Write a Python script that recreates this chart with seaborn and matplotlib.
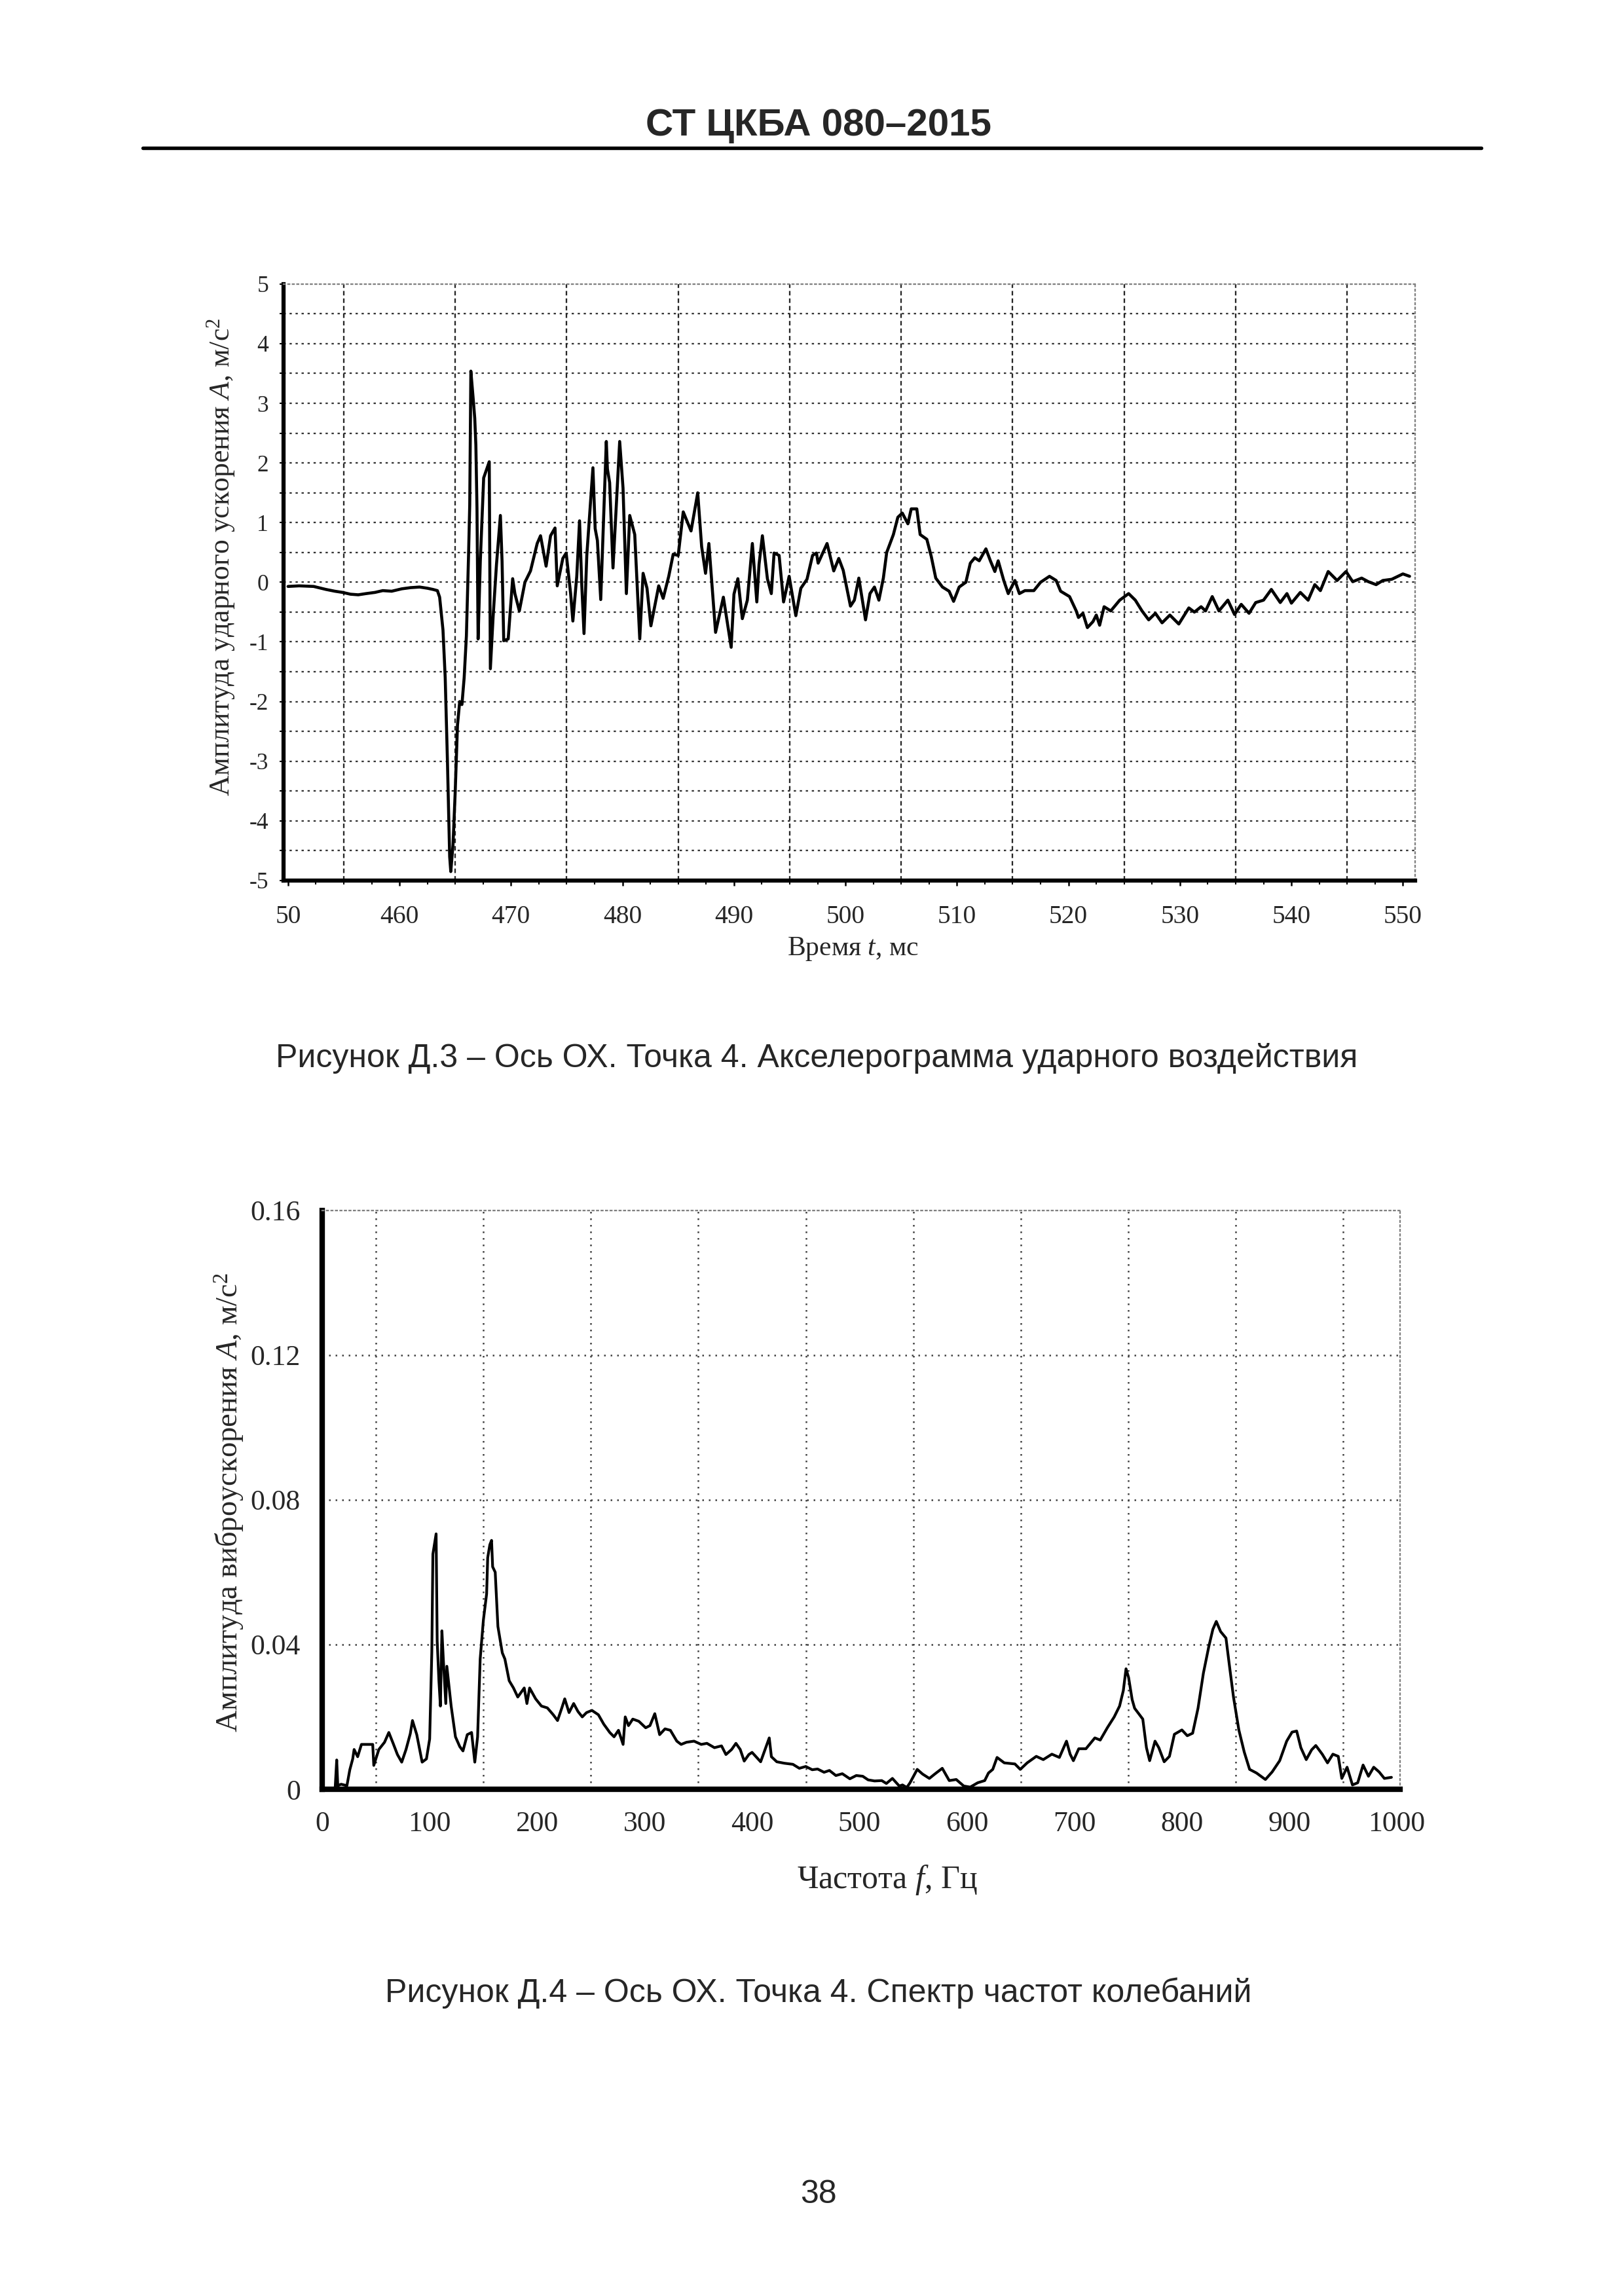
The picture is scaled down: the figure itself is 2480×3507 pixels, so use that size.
import numpy as np
import pandas as pd
import matplotlib
matplotlib.use("Agg")
import matplotlib.pyplot as plt
from matplotlib.lines import Line2D
from matplotlib.ticker import FixedLocator, MultipleLocator
import seaborn as sns

# %%
# Рисунок Д.3 - акселерограмма
t_ms = [450.0, 451.0, 452.3, 453.4, 454.2, 454.9, 455.6, 456.3, 457.0, 457.8,
        458.5, 459.3, 460.2, 461.0, 461.8, 462.5, 463.0, 463.4, 463.6, 463.9,
        464.1, 464.3, 464.5, 464.6, 464.8, 465.0, 465.2, 465.4, 465.6, 465.8,
        466.0, 466.2, 466.3, 466.4, 466.6, 466.75, 466.85, 466.95, 467.05, 467.25,
        467.55, 468.05, 468.15, 468.4, 468.7, 469.05, 469.2, 469.35, 469.75, 470.15,
        470.35, 470.75, 471.25, 471.75, 472.35, 472.65, 473.15, 473.55, 473.95, 474.15,
        474.65, 474.95, 475.35, 475.55, 475.9, 476.15, 476.35, 476.55, 476.8, 477.35,
        477.55, 477.75, 478.05, 478.55, 478.65, 478.85, 479.15, 479.75, 480.05, 480.35,
        480.65, 481.1, 481.55, 481.85, 482.2, 482.55, 483.25, 483.65, 484.15, 484.55,
        485.0, 485.45, 486.15, 486.75, 487.1, 487.45, 487.75, 488.35, 489.05, 489.75,
        490.0, 490.35, 490.75, 491.2, 491.65, 492.05, 492.25, 492.55, 493.0, 493.35,
        493.6, 494.05, 494.45, 494.95, 495.55, 496.0, 496.55, 497.05, 497.4, 497.55,
        498.35, 498.7, 498.95, 499.4, 499.8, 500.45, 500.8, 501.2, 501.8, 502.2,
        502.6, 503.0, 503.4, 503.7, 504.3, 504.7, 505.1, 505.6, 505.9, 506.4,
        506.7, 507.3, 507.7, 508.1, 508.7, 509.3, 509.7, 510.2, 510.8, 511.2,
        511.6, 512.0, 512.6, 513.0, 513.4, 513.7, 514.2, 514.6, 515.2, 515.6,
        516.1, 516.9, 517.5, 518.3, 518.9, 519.3, 520.1, 520.7, 520.9, 521.3,
        521.7, 522.2, 522.5, 522.8, 523.2, 523.8, 524.6, 525.4, 526.0, 526.6,
        527.2, 527.8, 528.4, 529.1, 529.9, 530.5, 530.8, 531.3, 531.9, 532.3,
        532.9, 533.5, 534.3, 534.9, 535.5, 536.2, 536.8, 537.5, 538.2, 539.0,
        539.6, 540.0, 540.8, 541.5, 542.1, 542.6, 543.3, 544.1, 544.9, 545.5,
        546.3, 546.9, 547.6, 548.2, 549.0, 550.0, 550.6]
acc = [-0.07, -0.06, -0.07, -0.12, -0.15, -0.17, -0.2, -0.21, -0.19, -0.17,
       -0.14, -0.15, -0.11, -0.09, -0.08, -0.1, -0.12, -0.14, -0.25, -0.8,
       -1.6, -3.0, -4.6, -4.85, -4.4, -3.5, -2.4, -2.0, -2.05, -1.6,
       -0.9, 0.5, 1.3, 3.54, 3.1, 2.75, 2.3, 1.24, -0.95, 0.36,
       1.75, 2.02, -1.45, -0.57, 0.3, 1.12, 0.35, -0.98, -0.95, 0.06,
       -0.19, -0.48, 0.0, 0.19, 0.65, 0.78, 0.27, 0.78, 0.91, -0.06,
       0.4, 0.49, -0.19, -0.65, 0.1, 1.03, -0.05, -0.86, 0.45, 1.92,
       0.9, 0.7, -0.29, 2.36, 1.9, 1.67, 0.24, 2.36, 1.58, -0.19,
       1.12, 0.8, -0.95, 0.15, -0.1, -0.73, -0.06, -0.27, 0.1, 0.47,
       0.45, 1.18, 0.86, 1.5, 0.6, 0.15, 0.65, -0.84, -0.25, -1.09,
       -0.2, 0.06, -0.61, -0.3, 0.65, -0.33, 0.3, 0.78, 0.06, -0.19,
       0.49, 0.45, -0.33, 0.1, -0.56, -0.1, 0.05, 0.45, 0.49, 0.32,
       0.65, 0.38, 0.19, 0.4, 0.2, -0.4, -0.3, 0.07, -0.63, -0.19,
       -0.08, -0.3, 0.07, 0.5, 0.8, 1.09, 1.16, 0.98, 1.23, 1.23,
       0.8, 0.72, 0.43, 0.07, -0.08, -0.15, -0.32, -0.08, 0.0, 0.32,
       0.41, 0.36, 0.56, 0.36, 0.18, 0.36, 0.03, -0.19, 0.03, -0.19,
       -0.14, -0.14, 0.0, 0.1, 0.03, -0.15, -0.24, -0.48, -0.59, -0.52,
       -0.76, -0.66, -0.55, -0.72, -0.41, -0.48, -0.3, -0.19, -0.3, -0.48,
       -0.63, -0.52, -0.68, -0.55, -0.7, -0.52, -0.43, -0.5, -0.41, -0.48,
       -0.24, -0.48, -0.3, -0.54, -0.37, -0.52, -0.34, -0.3, -0.12, -0.34,
       -0.19, -0.35, -0.17, -0.3, -0.04, -0.14, 0.18, 0.03, 0.18, 0.01,
       0.07, 0.01, -0.04, 0.03, 0.05, 0.14, 0.1]

t_ticks = [450, 460, 470, 480, 490, 500, 510, 520, 530, 540, 550]
t_ticklabels = ["50", "460", "470", "480", "490", "500", "510", "520", "530", "540", "550"]
acc_ticks = [5, 4, 3, 2, 1, 0, -1, -2, -3, -4, -5]

# Рисунок Д.4 - спектр частот
f_hz = [0, 12, 13.5, 14.5, 17.6, 23, 25.7, 28.4, 29.7, 33,
        36.5, 47, 48, 52.7, 58, 62, 66, 70, 74, 78,
        82, 84, 88, 93, 97, 100, 102, 103, 106, 107,
        108.6, 110, 111.4, 112.7, 115, 116, 120, 124, 128, 131,
        135, 139, 142, 144.6, 147, 150, 153, 154, 156, 157.6,
        158.6, 161, 163.5, 167.6, 170, 174, 178, 182, 188, 190.5,
        193, 198.6, 204, 209.5, 215, 219, 223, 225.7, 229.7, 234,
        238, 242, 246, 251, 257, 262, 267.6, 271.6, 275.7, 280,
        282, 285, 289, 294.6, 301, 305, 309.5, 314, 319, 324,
        330, 334, 339, 346, 352.7, 358, 365, 371.6, 375.7, 381,
        385, 389, 392.7, 397, 400, 408, 416, 418, 423, 430,
        438, 444, 450, 456, 461, 467, 472, 478, 484, 491,
        497, 503, 508, 514, 520.7, 525, 530.6,
        537, 540, 544, 547, 553.7, 558.7, 565, 570, 577, 583.5,
        590, 597, 603, 610, 616.5, 620, 624, 628, 634.7, 644.6,
        649.6, 656, 664.5, 671, 679, 686, 692.6, 696, 699, 704,
        710.7, 719, 724, 730.6, 737, 742, 745.5, 748, 750.4, 753.7,
        756, 763.6, 767, 770, 775, 778.5, 783.5, 788.4, 793, 800,
        805, 810, 815, 820, 825, 828.8, 832, 836, 841, 844.6,
        848, 853, 858, 863, 869.4, 877.7, 884, 891, 897.5, 902.5,
        906.8, 910.7, 915.7, 920.7, 924.6, 930.6, 935.5, 940.5, 945.5, 948.8,
        953.7, 958.7, 963.6, 968.6, 973.6, 978.5, 983.5, 988.4, 995]
amp = [0, 0.0, 0.0081, 0.001, 0.0014, 0.001, 0.0054, 0.0084, 0.011, 0.009,
       0.0124, 0.0124, 0.0066, 0.011, 0.013, 0.0157, 0.0127, 0.0096, 0.0075, 0.011,
       0.0154, 0.019, 0.0151, 0.0075, 0.0084, 0.0139, 0.038, 0.065, 0.0706, 0.041,
       0.03, 0.023, 0.0438, 0.036, 0.0237, 0.034, 0.023, 0.0145, 0.0118, 0.0106,
       0.0151, 0.0157, 0.0075, 0.0145, 0.036, 0.0468, 0.054, 0.064, 0.0676, 0.0688,
       0.0615, 0.06, 0.045, 0.0377, 0.036, 0.03, 0.028, 0.0255, 0.028, 0.0237,
       0.028, 0.025, 0.023, 0.0225, 0.0206, 0.019, 0.0225, 0.025, 0.0212, 0.0237,
       0.0215, 0.02, 0.0212, 0.0218, 0.0206, 0.018, 0.0157, 0.0145, 0.0163, 0.0124,
       0.02, 0.0176, 0.0194, 0.0188, 0.017, 0.0176, 0.0209, 0.0151, 0.0167, 0.0163,
       0.0133, 0.0124, 0.013, 0.0133, 0.0124, 0.0127, 0.0115, 0.012, 0.0096, 0.011,
       0.0127, 0.011, 0.0078, 0.0096, 0.0102, 0.0076, 0.0142, 0.009, 0.0076, 0.0072,
       0.0069, 0.0058, 0.0063, 0.0054, 0.0056, 0.0047, 0.0052, 0.0038, 0.0043, 0.0029,
       0.0038, 0.0036, 0.0026, 0.0023, 0.0024, 0.0016, 0.003,
       0.0009, 0.0012, 0.0005, 0.0018, 0.0055, 0.0042, 0.003, 0.0042, 0.0058, 0.0024,
       0.0027, 0.0009, 0.0006, 0.0018, 0.0024, 0.0045, 0.0055, 0.0088, 0.0073, 0.007,
       0.0055, 0.0073, 0.0091, 0.0082, 0.0097, 0.0088, 0.0133, 0.0097, 0.0079, 0.0112,
       0.0112, 0.0142, 0.0136, 0.017, 0.02, 0.023, 0.0273, 0.0333, 0.0309, 0.0248,
       0.0224, 0.0194, 0.0115, 0.0079, 0.0133, 0.0115, 0.0076, 0.0091, 0.0152, 0.0164,
       0.0148, 0.0155, 0.0224, 0.0321, 0.0394, 0.0442, 0.0464, 0.0436, 0.0418, 0.0333,
       0.0255, 0.0164, 0.0103, 0.0055, 0.0045, 0.0027, 0.0048, 0.0079, 0.0133, 0.0158,
       0.0161, 0.0115, 0.0082, 0.0109, 0.0121, 0.0097, 0.0073, 0.0097, 0.0091, 0.003,
       0.0061, 0.0012, 0.0018, 0.0067, 0.0036, 0.0061, 0.0048, 0.003, 0.0033]

f_ticks = [0, 100, 200, 300, 400, 500, 600, 700, 800, 900, 1000]
amp_ticks = [0, 0.04, 0.08, 0.12, 0.16]
amp_ticklabels = ["0", "0.04", "0.08", "0.12", "0.16"]

# %%
sns.set_theme(style="white")
plt.rcParams["font.family"] = ["Liberation Serif", "DejaVu Serif"]
plt.rcParams["mathtext.fontset"] = "custom"
plt.rcParams["mathtext.rm"] = "Liberation Serif"
plt.rcParams["mathtext.it"] = "Liberation Serif:italic"
plt.rcParams["axes.unicode_minus"] = False

fig = plt.figure(figsize=(2480 / 300, 3507 / 300), dpi=300)
fig.patch.set_facecolor("white")

sans = ["Liberation Sans", "DejaVu Sans"]
fig.text(0.504, 0.9453, "СТ ЦКБА 080–2015", ha="center", va="center",
         fontsize=14, fontweight="bold", family=sans)
fig.add_artist(Line2D([0.088, 0.912], [0.9356, 0.9356], color="black", lw=1.3))
fig.text(0.503, 0.5392, "Рисунок Д.3 – Ось ОХ. Точка 4. Акселерограмма ударного воздействия",
         ha="center", va="center", fontsize=12, family=sans)
fig.text(0.504, 0.1320, "Рисунок Д.4 – Ось ОХ. Точка 4. Спектр частот колебаний",
         ha="center", va="center", fontsize=12, family=sans)
fig.text(0.504, 0.0442, "38", ha="center", va="center", fontsize=12, family=sans)


def oformit_osi(ax, lw_spine):
    for s in ["left", "bottom"]:
        ax.spines[s].set_color("black")
        ax.spines[s].set_linewidth(lw_spine)
    for s in ["top", "right"]:
        ax.spines[s].set_color("0.5")
        ax.spines[s].set_linestyle((0, (1, 2)))
        ax.spines[s].set_linewidth(0.55)
    ax.set_facecolor("white")


# %% Акселерограмма
ax1 = fig.add_axes([0.1746, 0.6165, 0.6968, 0.2598])
df1 = pd.DataFrame({"t": t_ms, "a": acc})
sns.lineplot(data=df1, x="t", y="a", ax=ax1, color="black", lw=1.1,
             estimator=None, sort=False)
ax1.set_xlim(449.6, 551.1)
ax1.set_ylim(-5, 5)
for yy in np.arange(-4.5, 5.0, 0.5):
    ax1.axhline(yy, color="0.2", lw=0.55, ls=(0, (1.5, 2.5)), zorder=0)
for xx in np.arange(455, 550, 10):
    ax1.axvline(xx, color="0.15", lw=0.55, ls=(0, (3, 2)), zorder=0)
oformit_osi(ax1, 1.5)
ax1.xaxis.set_major_locator(FixedLocator(t_ticks))
ax1.set_xticklabels(t_ticklabels)
ax1.xaxis.set_minor_locator(MultipleLocator(2.5))
ax1.yaxis.set_major_locator(FixedLocator(acc_ticks))
ax1.set_yticklabels([str(v) for v in acc_ticks])
ax1.yaxis.set_minor_locator(MultipleLocator(0.5))
ax1.tick_params(axis="x", which="major", direction="out", length=2, width=0.6,
                color="black", labelsize=9.5, pad=7, bottom=True)
ax1.tick_params(axis="x", which="minor", direction="out", length=1.5, width=0.5,
                color="black", bottom=True)
ax1.tick_params(axis="y", which="both", direction="out", length=1.5, width=0.5,
                color="black", labelsize=8.5, pad=4, left=True)
ax1.set_xlabel(r"Время $\mathit{t}$, мс", fontsize=10)
ax1.set_ylabel(r"Амплитуда ударного ускорения $\mathit{A}$, м/с$^{2}$", fontsize=10.5)
ax1.xaxis.set_label_coords(0.503, -0.115)
ax1.xaxis.label.set_va("center")
ax1.yaxis.set_label_coords(-0.055, 0.542)
ax1.yaxis.label.set_va("center")

# %% Спектр
ax2 = fig.add_axes([0.1984, 0.2207, 0.6637, 0.2521])
df2 = pd.DataFrame({"f": f_hz, "A": amp})
sns.lineplot(data=df2, x="f", y="A", ax=ax2, color="black", lw=1.0,
             estimator=None, sort=False)
ax2.set_xlim(0, 1003)
ax2.set_ylim(0, 0.16)
for yy in amp_ticks[1:-1]:
    ax2.axhline(yy, color="0.25", lw=0.6, ls=(0, (1, 3)), zorder=0)
for xx in np.arange(50, 1000, 100):
    ax2.axvline(xx, color="0.25", lw=0.6, ls=(0, (1, 3)), zorder=0)
oformit_osi(ax2, 2.0)
ax2.xaxis.set_major_locator(FixedLocator(f_ticks))
ax2.set_xticklabels([str(v) for v in f_ticks])
ax2.yaxis.set_major_locator(FixedLocator(amp_ticks))
ax2.set_yticklabels(amp_ticklabels)
ax2.tick_params(axis="both", which="major", length=0, labelsize=10.5, pad=8)
ax2.set_xlabel(r"Частота $\mathit{f}$, Гц", fontsize=12)
ax2.set_ylabel(r"Амплитуда виброускорения $\mathit{A}$, м/с$^{2}$", fontsize=11.2)
ax2.xaxis.set_label_coords(0.524, -0.157)
ax2.xaxis.label.set_va("center")
ax2.yaxis.set_label_coords(-0.086, 0.495)
ax2.yaxis.label.set_va("center")

fig.savefig("out.png", dpi=300, facecolor="white")
